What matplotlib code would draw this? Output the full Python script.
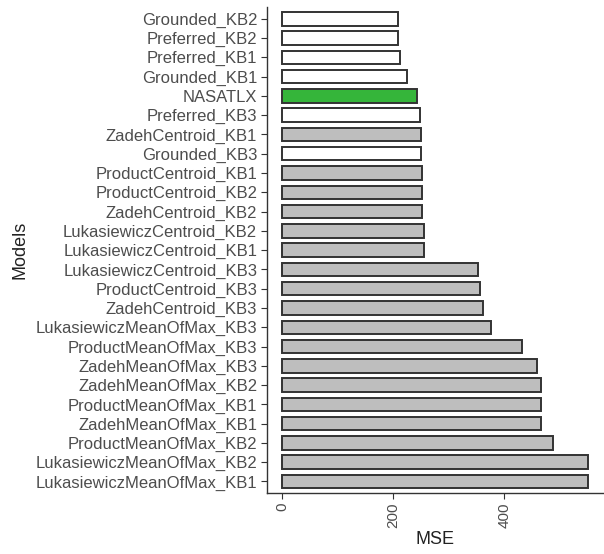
import matplotlib
matplotlib.use("Agg")
from matplotlib import pyplot as plt

plt.rcParams['font.family'] = ['Liberation Sans', 'DejaVu Sans']

# top to bottom, as in the chart
models = [
    'Grounded_KB2', 'Preferred_KB2', 'Preferred_KB1', 'Grounded_KB1',
    'NASATLX', 'Preferred_KB3', 'ZadehCentroid_KB1', 'Grounded_KB3',
    'ProductCentroid_KB1', 'ProductCentroid_KB2', 'ZadehCentroid_KB2',
    'LukasiewiczCentroid_KB2', 'LukasiewiczCentroid_KB1',
    'LukasiewiczCentroid_KB3', 'ProductCentroid_KB3', 'ZadehCentroid_KB3',
    'LukasiewiczMeanOfMax_KB3', 'ProductMeanOfMax_KB3', 'ZadehMeanOfMax_KB3',
    'ZadehMeanOfMax_KB2', 'ProductMeanOfMax_KB1', 'ZadehMeanOfMax_KB1',
    'ProductMeanOfMax_KB2', 'LukasiewiczMeanOfMax_KB2',
    'LukasiewiczMeanOfMax_KB1',
]
mse = [
    207.7, 207.7, 211.3, 224.9,
    243.3, 248.0, 250.4, 250.4,
    252.2, 252.2, 252.2,
    255.8, 255.8,
    353.0, 355.5, 361.4,
    375.0, 430.9, 458.8,
    465.9, 466.0, 466.0,
    486.6, 549.6,
    549.6,
]
# group of each model decides the fill
groups = []
for m in models:
    if m == 'NASATLX':
        groups.append('baseline')
    elif m.startswith('Grounded') or m.startswith('Preferred'):
        groups.append('expert')
    else:
        groups.append('fuzzy')
fill_of = {'baseline': '#35b53a', 'expert': '#ffffff', 'fuzzy': '#bebebe'}
colors = [fill_of[g] for g in groups]

fig = plt.figure(figsize=(6.04, 5.54), dpi=100)
ax = fig.add_axes([0.442, 0.11, 0.556, 0.877])

pos = list(range(len(models)))
ax.barh(pos, mse, height=0.7, color=colors, edgecolor='#333333', linewidth=1.4)
ax.set_yticks(pos)
ax.set_yticklabels(models)
ax.set_ylim(len(models) - 0.4, -0.6)
ax.set_xlim(-0.05 * max(mse), 1.05 * max(mse))
ax.set_xticks([0, 200, 400])
ax.tick_params(axis='x', labelrotation=90, labelsize=11, pad=3)
ax.tick_params(axis='y', labelsize=12, pad=3)
ax.tick_params(colors='#333333', labelcolor='#4d4d4d', length=4)

for side in ['top', 'right']:
    ax.spines[side].set_visible(False)
for side in ['left', 'bottom']:
    ax.spines[side].set_color('#333333')
    ax.spines[side].set_linewidth(1.0)

ax.set_xlabel('MSE', fontsize=13, color='#222222', labelpad=2)
ax.set_ylabel('Models', fontsize=13, color='#222222')
ax.yaxis.set_label_coords(-0.71, 0.5)

fig.savefig('out.png', dpi=100)
